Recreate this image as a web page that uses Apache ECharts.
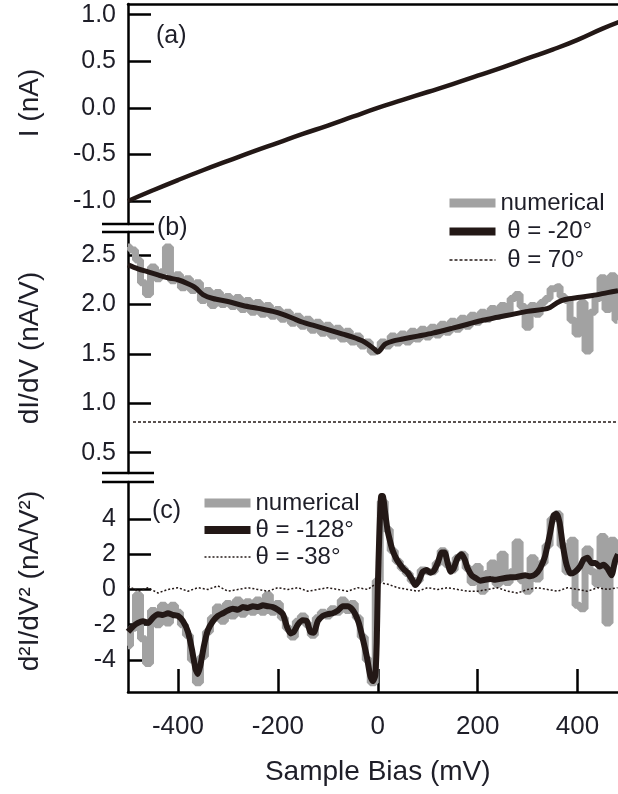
<!DOCTYPE html>
<html>
<head>
<meta charset="utf-8">
<script src="https://cdn.jsdelivr.net/npm/echarts@6/dist/echarts.min.js"></script>
<style>
html,body{margin:0;padding:0;background:#fff;}
#chart{width:618px;height:794px;}
</style>
</head>
<body>
<div id="chart"></div>
<script>
// ---------- Data ----------
// Panel (a): I-V curve
const iBias = [-500,-450,-400,-350,-300,-250,-200,-150,-100,-50,0,50,100,150,200,250,300,350,400,450,500];
const iCurrent = [-1.00,-0.885,-0.775,-0.67,-0.57,-0.47,-0.375,-0.28,-0.19,-0.095,0.0,0.085,0.17,0.255,0.345,0.435,0.53,0.625,0.73,0.85,0.955];

// shared 10 mV bias grid for "numerical" curves (-500 ... 480)
const bias10 = [];
for (let v = -500; v <= 480; v += 10) bias10.push(v);

// Panel (b): dI/dV
const bNumerical = [
  2.58,2.55,2.45,2.22,2.10,2.38,2.26,2.33,2.58,2.24,
  2.30,2.17,2.26,2.14,2.22,2.04,2.14,1.99,2.12,2.00,
  2.08,1.98,2.07,1.95,2.04,1.92,2.02,1.90,1.99,1.88,
  1.95,1.85,1.92,1.81,1.88,1.78,1.85,1.74,1.82,1.71,
  1.79,1.68,1.76,1.65,1.73,1.62,1.68,1.58,1.62,1.52,
  1.54,1.62,1.58,1.68,1.61,1.70,1.62,1.73,1.65,1.75,
  1.67,1.77,1.69,1.80,1.72,1.83,1.75,1.86,1.78,1.89,
  1.82,1.92,1.85,1.96,1.88,1.99,1.92,2.06,2.10,1.98,
  1.77,1.99,1.90,2.02,2.06,2.16,2.18,2.08,2.04,1.84,
  1.70,2.02,1.53,1.92,2.06,2.27,1.95,2.29,1.84
];
const bTheta20Bias = [-500,-480,-460,-440,-420,-400,-380,-365,-350,-330,-300,-270,-240,-210,-190,-170,-150,-130,-110,-90,-70,-50,-30,-15,-5,0,5,15,30,50,80,110,150,180,210,240,270,300,330,345,360,375,400,430,460,481];
const bTheta20 = [2.40,2.36,2.33,2.30,2.27,2.25,2.21,2.17,2.10,2.06,2.03,1.99,1.96,1.93,1.90,1.86,1.82,1.79,1.76,1.73,1.70,1.67,1.63,1.58,1.54,1.52,1.54,1.60,1.63,1.65,1.68,1.71,1.76,1.80,1.84,1.87,1.90,1.93,1.95,1.97,2.02,2.05,2.07,2.09,2.12,2.14];
const bTheta70Bias = [-490,-250,0,250,481];
const bTheta70 = [0.81,0.81,0.81,0.81,0.81];

// Panel (c): d2I/dV2
const cNumerical = [
  -3.2,-2.2,-0.3,-2.8,-4.2,-1.2,-2.0,-0.9,-1.9,-0.9,
  -1.3,-2.0,-2.6,-4.0,-5.3,-3.8,-2.4,-1.6,-1.0,-1.8,
  -0.8,-1.5,-0.6,-1.4,-0.7,-1.3,-0.6,-1.3,-0.3,-1.3,
  -0.8,-1.6,-2.2,-2.7,-1.8,-1.5,-2.0,-2.6,-1.6,-1.3,
  -1.5,-1.1,-1.3,-0.6,-1.2,-0.8,-1.6,-2.7,-4.0,-5.3,
  0.5,5.0,3.4,2.2,1.6,1.2,0.9,0.5,0.5,1.1,
  1.0,1.0,1.5,2.2,1.4,1.1,1.8,2.0,1.2,0.4,
  1.3,-0.1,0.9,1.5,0.3,2.0,0.4,1.0,2.7,0.5,
  -0.1,1.8,0.6,1.5,2.5,4.0,4.3,2.5,1.0,2.8,
  -0.9,-1.1,2.3,1.0,0.3,3.0,-1.9,2.8,1.6
];
const cTheta128Bias = [-500,-490,-480,-470,-460,-450,-440,-430,-420,-410,-400,-390,-380,-372,-365,-360,-355,-348,-340,-330,-320,-310,-300,-290,-280,-270,-260,-250,-240,-230,-220,-210,-200,-190,-182,-175,-168,-160,-150,-142,-135,-128,-120,-110,-100,-90,-80,-70,-60,-52,-45,-38,-30,-22,-15,-10,-5,-2,0,3,7,10,15,20,25,30,38,45,52,60,68,75,82,90,98,105,112,120,128,134,140,146,152,160,168,174,180,188,196,205,215,225,235,245,255,265,275,285,295,305,315,325,335,345,352,358,364,370,378,386,395,405,412,420,428,436,444,452,460,468,475,481];
const cTheta128 = [-2.4,-2.1,-1.9,-1.8,-1.9,-1.6,-1.4,-1.45,-1.35,-1.45,-1.5,-1.8,-2.4,-3.4,-4.5,-4.8,-4.3,-3.2,-2.3,-1.8,-1.5,-1.35,-1.2,-1.1,-1.15,-1.0,-1.05,-0.95,-1.0,-0.9,-0.95,-1.0,-1.15,-1.4,-2.1,-2.5,-2.4,-2.0,-1.75,-1.8,-2.4,-2.45,-1.8,-1.5,-1.4,-1.35,-1.2,-0.95,-0.95,-1.1,-1.4,-1.9,-2.8,-3.8,-4.9,-5.2,-4.9,-3.0,0.0,3.0,5.3,5.3,4.3,3.3,2.7,2.2,1.7,1.4,1.15,0.95,0.6,0.25,0.5,1.0,1.1,0.95,1.05,1.5,2.1,2.1,1.5,1.0,1.2,1.8,2.0,1.7,1.2,0.8,0.65,0.5,0.55,0.6,0.55,0.6,0.65,0.7,0.7,0.75,0.8,0.75,0.85,1.2,1.9,3.2,4.2,4.3,3.8,2.6,1.4,0.9,1.0,1.3,1.7,1.8,1.5,1.5,1.3,1.4,1.2,0.8,1.6,2.0];
const cTheta38Bias = [];
for (let v = -500; v <= 480; v += 20) cTheta38Bias.push(v);
const cTheta38 = [
  0.2,-0.1,0.1,-0.2,0.0,0.1,-0.1,0.1,0.0,0.2,
  -0.1,0.0,0.1,0.0,-0.1,0.1,0.0,0.1,-0.1,0.0,
  0.1,0.0,-0.1,0.1,0.0,0.4,0.3,0.1,0.0,-0.1,
  0.1,0.0,0.1,0.0,-0.1,-0.1,0.0,0.1,-0.1,-0.2,
  0.0,0.1,0.0,-0.1,0.1,0.0,-0.1,0.1,0.0,0.1
];

// Tick labels
const xTicks = [-400,-200,0,200,400];
const aTicks = [-1.0,-0.5,0.0,0.5,1.0];
const bTicks = [0.5,1.0,1.5,2.0,2.5];
const cTicks = [-4,-2,0,2,4];

// ---------- Chart ----------
const FONT = "'Liberation Sans', Arial, Helvetica, sans-serif";
const INK = '#231816';
const GRAY = '#a2a2a2';
const TXT = '#1e1e28';
const zip = (xs, ys) => xs.map((x, i) => [x, ys[i]]);

const chart = echarts.init(document.getElementById('chart'), null, {renderer: 'canvas'});

function yAxisCfg(idx, min, max, ticks, name, fmt, pad) {
  return {
    type: 'value', gridIndex: idx, min: min, max: max,
    axisLine: {show: true, onZero: false, lineStyle: {color: '#000', width: 2.5}},
    axisTick: {show: true, inside: true, length: 23, customValues: ticks, lineStyle: {color: '#000', width: 2.5}},
    axisLabel: {show: true, customValues: ticks, formatter: fmt, fontSize: 25, fontFamily: FONT, color: TXT, margin: 12},
    splitLine: {show: false},
    name: name, nameLocation: 'middle', nameGap: 84,
    nameTextStyle: {fontSize: 28, fontFamily: FONT, color: TXT, padding: pad}
  };
}

const legendCommon = {
  orient: 'vertical', padding: 0, itemWidth: 46, itemHeight: 14,
  itemStyle: {opacity: 0},
  textStyle: {fontSize: 24, fontFamily: FONT, color: TXT, lineHeight: 24}
};

const option = {
  animation: false,
  backgroundColor: '#fff',
  grid: [
    {left: 128, top: 4, width: 499.5, height: 220, outerBoundsMode: 'none', containLabel: false},
    {left: 128, top: 232, width: 499.5, height: 241, outerBoundsMode: 'none', containLabel: false},
    {left: 128, top: 482, width: 499.5, height: 210, outerBoundsMode: 'none', containLabel: false}
  ],
  xAxis: [
    {type: 'value', gridIndex: 0, min: -500, max: 500, position: 'top',
     axisLine: {show: true, onZero: false, lineStyle: {color: '#000', width: 2.5}},
     axisTick: {show: false}, axisLabel: {show: false}, splitLine: {show: false}},
    {type: 'value', gridIndex: 1, min: -500, max: 500, show: false, splitLine: {show: false}},
    {type: 'value', gridIndex: 2, min: -500, max: 500, position: 'bottom',
     axisLine: {show: true, onZero: false, lineStyle: {color: '#000', width: 2.5}},
     axisTick: {show: true, inside: true, length: 23, customValues: xTicks, lineStyle: {color: '#000', width: 2.5}},
     axisLabel: {show: true, customValues: xTicks, fontSize: 26, fontFamily: FONT, color: TXT, margin: 22},
     splitLine: {show: false},
     name: 'Sample Bias (mV)', nameLocation: 'middle', nameGap: 66,
     nameTextStyle: {fontSize: 28, fontFamily: FONT, color: TXT}}
  ],
  yAxis: [
    yAxisCfg(0, -1.247, 1.115, aTicks, 'I (nA)', v => v.toFixed(1), [0, 0, 0, 22]),
    yAxisCfg(1, 0.295, 2.733, bTicks, 'dI/dV (nA/V)', v => v.toFixed(1), [0, 0, 0, 9]),
    yAxisCfg(2, -5.82, 6.10, cTicks, 'd\u00B2I/dV\u00B2 (nA/V\u00B2)', v => String(v), [0, 0, 0, 12])
  ],
  legend: [
    Object.assign({}, legendCommon, {
      left: 445, top: 191, itemGap: 4.5,
      formatter: n => (n === 'numerical' ? n : ' ' + n),
      data: [{name: 'numerical', lineStyle: {width: 9}},
             {name: 'θ = -20°', lineStyle: {width: 8}},
             {name: 'θ = 70°', lineStyle: {width: 1.5}}]}),
    Object.assign({}, legendCommon, {
      left: 200, top: 491, itemGap: 3,
      data: [{name: 'numerical', lineStyle: {width: 9}},
             {name: 'θ = -128°', lineStyle: {width: 8}},
             {name: 'θ = -38°', lineStyle: {width: 1.5}}]})
  ],
  graphic: {elements: [
    {type: 'text', left: 156, top: 24, style: {text: '(a)', fontSize: 25, fontFamily: FONT, fill: TXT}},
    {type: 'text', left: 157, top: 216, style: {text: '(b)', fontSize: 25, fontFamily: FONT, fill: TXT}},
    {type: 'text', left: 152, top: 499, style: {text: '(c)', fontSize: 25, fontFamily: FONT, fill: TXT}},
    {type: 'line', shape: {x1: 102, y1: 224, x2: 154, y2: 224}, style: {stroke: '#000', lineWidth: 2.5}},
    {type: 'line', shape: {x1: 102, y1: 232, x2: 154, y2: 232}, style: {stroke: '#000', lineWidth: 2.5}},
    {type: 'line', shape: {x1: 102, y1: 473, x2: 154, y2: 473}, style: {stroke: '#000', lineWidth: 2.5}},
    {type: 'line', shape: {x1: 102, y1: 482, x2: 154, y2: 482}, style: {stroke: '#000', lineWidth: 2.5}}
  ]},
  series: [
    {name: 'I', type: 'line', xAxisIndex: 0, yAxisIndex: 0, data: zip(iBias, iCurrent),
     symbol: 'none', smooth: true, lineStyle: {color: INK, width: 4.5}, itemStyle: {color: INK}},

    {name: 'numerical', type: 'line', xAxisIndex: 1, yAxisIndex: 1, data: zip(bias10, bNumerical),
     symbol: 'none', step: 'middle', lineStyle: {color: GRAY, width: 7}, itemStyle: {color: GRAY}},
    {name: 'θ = -20°', type: 'line', xAxisIndex: 1, yAxisIndex: 1, data: zip(bTheta20Bias, bTheta20),
     symbol: 'none', smooth: 0.3, lineStyle: {color: INK, width: 5}, itemStyle: {color: INK}},
    {name: 'θ = 70°', type: 'line', xAxisIndex: 1, yAxisIndex: 1, data: zip(bTheta70Bias, bTheta70),
     symbol: 'none', lineStyle: {color: INK, width: 1.5, type: [3, 2]}, itemStyle: {color: INK}},

    {name: 'numerical', type: 'line', xAxisIndex: 2, yAxisIndex: 2, data: zip(bias10, cNumerical),
     symbol: 'none', step: 'middle', lineStyle: {color: GRAY, width: 7}, itemStyle: {color: GRAY}},
    {name: 'θ = -128°', type: 'line', xAxisIndex: 2, yAxisIndex: 2, data: zip(cTheta128Bias, cTheta128),
     symbol: 'none', smooth: 0.2, lineStyle: {color: INK, width: 6, join: 'round'}, itemStyle: {color: INK}},
    {name: 'θ = -38°', type: 'line', xAxisIndex: 2, yAxisIndex: 2, data: zip(cTheta38Bias, cTheta38),
     symbol: 'none', lineStyle: {color: INK, width: 1.5, type: [2, 2]}, itemStyle: {color: INK}}
  ]
};
chart.setOption(option);
</script>
</body>
</html>
